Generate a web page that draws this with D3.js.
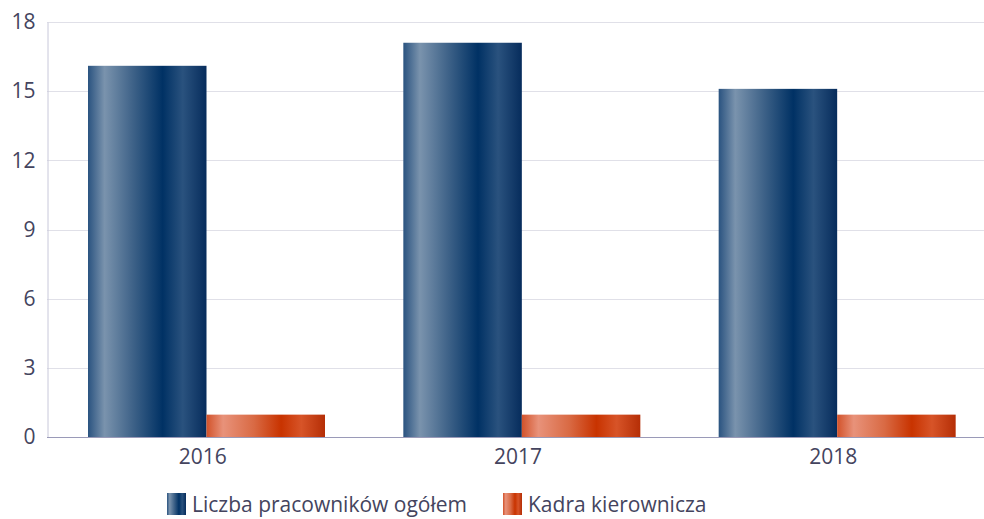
<!DOCTYPE html>
<html>
<head>
<meta charset="utf-8">
<script src="https://cdn.jsdelivr.net/npm/d3@7"></script>
<style>
  html, body { margin: 0; padding: 0; background: #fff; }
  svg { display: block; font-family: "Open Sans", "Noto Sans", sans-serif; }
</style>
</head>
<body>
<svg id="chart" width="984" height="519"></svg>
<script>
// Employment figures per year
const years = ["2016", "2017", "2018"];
const seriesNames = ["Liczba pracowników ogółem", "Kadra kierownicza"];
const totalEmployees = [16.1, 17.1, 15.1];
const managers = [0.97, 0.97, 0.97];
const yTicks = [0, 3, 6, 9, 12, 15, 18];

const svg = d3.select("#chart");
const W = 984;
const plotLeft = 47, plotTop = 22, plotBottom = 437;
const textColor = "#44445e";
const fontSize = "21px";

// Horizontal gradients giving the bars a cylindrical sheen
const defs = svg.append("defs");
function sheen(id, stops) {
  const g = defs.append("linearGradient").attr("id", id)
    .attr("x1", "0%").attr("x2", "100%").attr("y1", "0%").attr("y2", "0%");
  stops.forEach(([o, c]) => g.append("stop").attr("offset", o).attr("stop-color", c));
}
sheen("blueSheen", [
  ["0%", "#2a5380"], ["14%", "#7a93ad"], ["38%", "#3e6288"],
  ["63%", "#003164"], ["80%", "#2a527e"], ["100%", "#062c5c"]
]);
sheen("orangeSheen", [
  ["0%", "#d2522a"], ["14%", "#e8927a"], ["40%", "#d96a44"],
  ["63%", "#c83300"], ["80%", "#d75428"], ["100%", "#b52e06"]
]);
const fills = ["url(#blueSheen)", "url(#orangeSheen)"];

const y = d3.scaleLinear().domain([0, 18]).range([plotBottom, plotTop]);
const x = d3.scaleBand().domain(years).range([48, 994]);
// Two bars side by side inside each year's band
const xInner = d3.scaleBand().domain(seriesNames).range([40, 277]);

// Gridlines
svg.append("g").selectAll("line").data(yTicks.filter(t => t > 0)).join("line")
  .attr("x1", plotLeft).attr("x2", W)
  .attr("y1", d => Math.round(y(d)) + 0.5).attr("y2", d => Math.round(y(d)) + 0.5)
  .attr("stroke", "#e0e0e8").attr("stroke-width", 1);

// Y axis
const yAxis = svg.append("g").attr("transform", `translate(${plotLeft + 0.5},0)`)
  .call(d3.axisLeft(y).tickValues(yTicks).tickSize(0).tickPadding(12));
yAxis.select(".domain").attr("stroke", "#c8c8da");
yAxis.selectAll("text").attr("fill", textColor).style("font-size", fontSize)
  .style("font-family", "\"Open Sans\", sans-serif");

// Bars
const rows = years.map((yr, i) => ({ year: yr, values: [totalEmployees[i], managers[i]] }));
const groups = svg.append("g").selectAll("g").data(rows).join("g")
  .attr("transform", d => `translate(${x(d.year)},0)`);
groups.selectAll("rect").data(d => d.values.map((v, k) => ({ v, k }))).join("rect")
  .attr("x", d => xInner(seriesNames[d.k]))
  .attr("width", xInner.bandwidth())
  .attr("y", d => y(d.v))
  .attr("height", d => plotBottom - y(d.v))
  .attr("fill", d => fills[d.k]);

// X axis
const xAxis = svg.append("g").attr("transform", `translate(-3,${plotBottom + 0.5})`)
  .call(d3.axisBottom(x).tickSize(0).tickPadding(12));
xAxis.select(".domain").remove();
xAxis.selectAll("text").attr("fill", textColor).style("font-size", fontSize)
  .style("font-family", "\"Open Sans\", sans-serif");
svg.append("line").attr("x1", plotLeft).attr("x2", W)
  .attr("y1", plotBottom + 0.5).attr("y2", plotBottom + 0.5)
  .attr("stroke", "#9a9ab8").attr("stroke-width", 1);

// Legend
const legendX = [167, 503];
const legend = svg.append("g").selectAll("g").data(seriesNames).join("g")
  .attr("transform", (d, i) => `translate(${legendX[i]},493)`);
legend.append("rect").attr("width", 19).attr("height", 22).attr("fill", (d, i) => fills[i]);
legend.append("text").attr("x", 25).attr("y", 19).text(d => d)
  .attr("fill", textColor).style("font-size", "21px")
  .style("font-family", "\"Open Sans\", sans-serif");
</script>
</body>
</html>
